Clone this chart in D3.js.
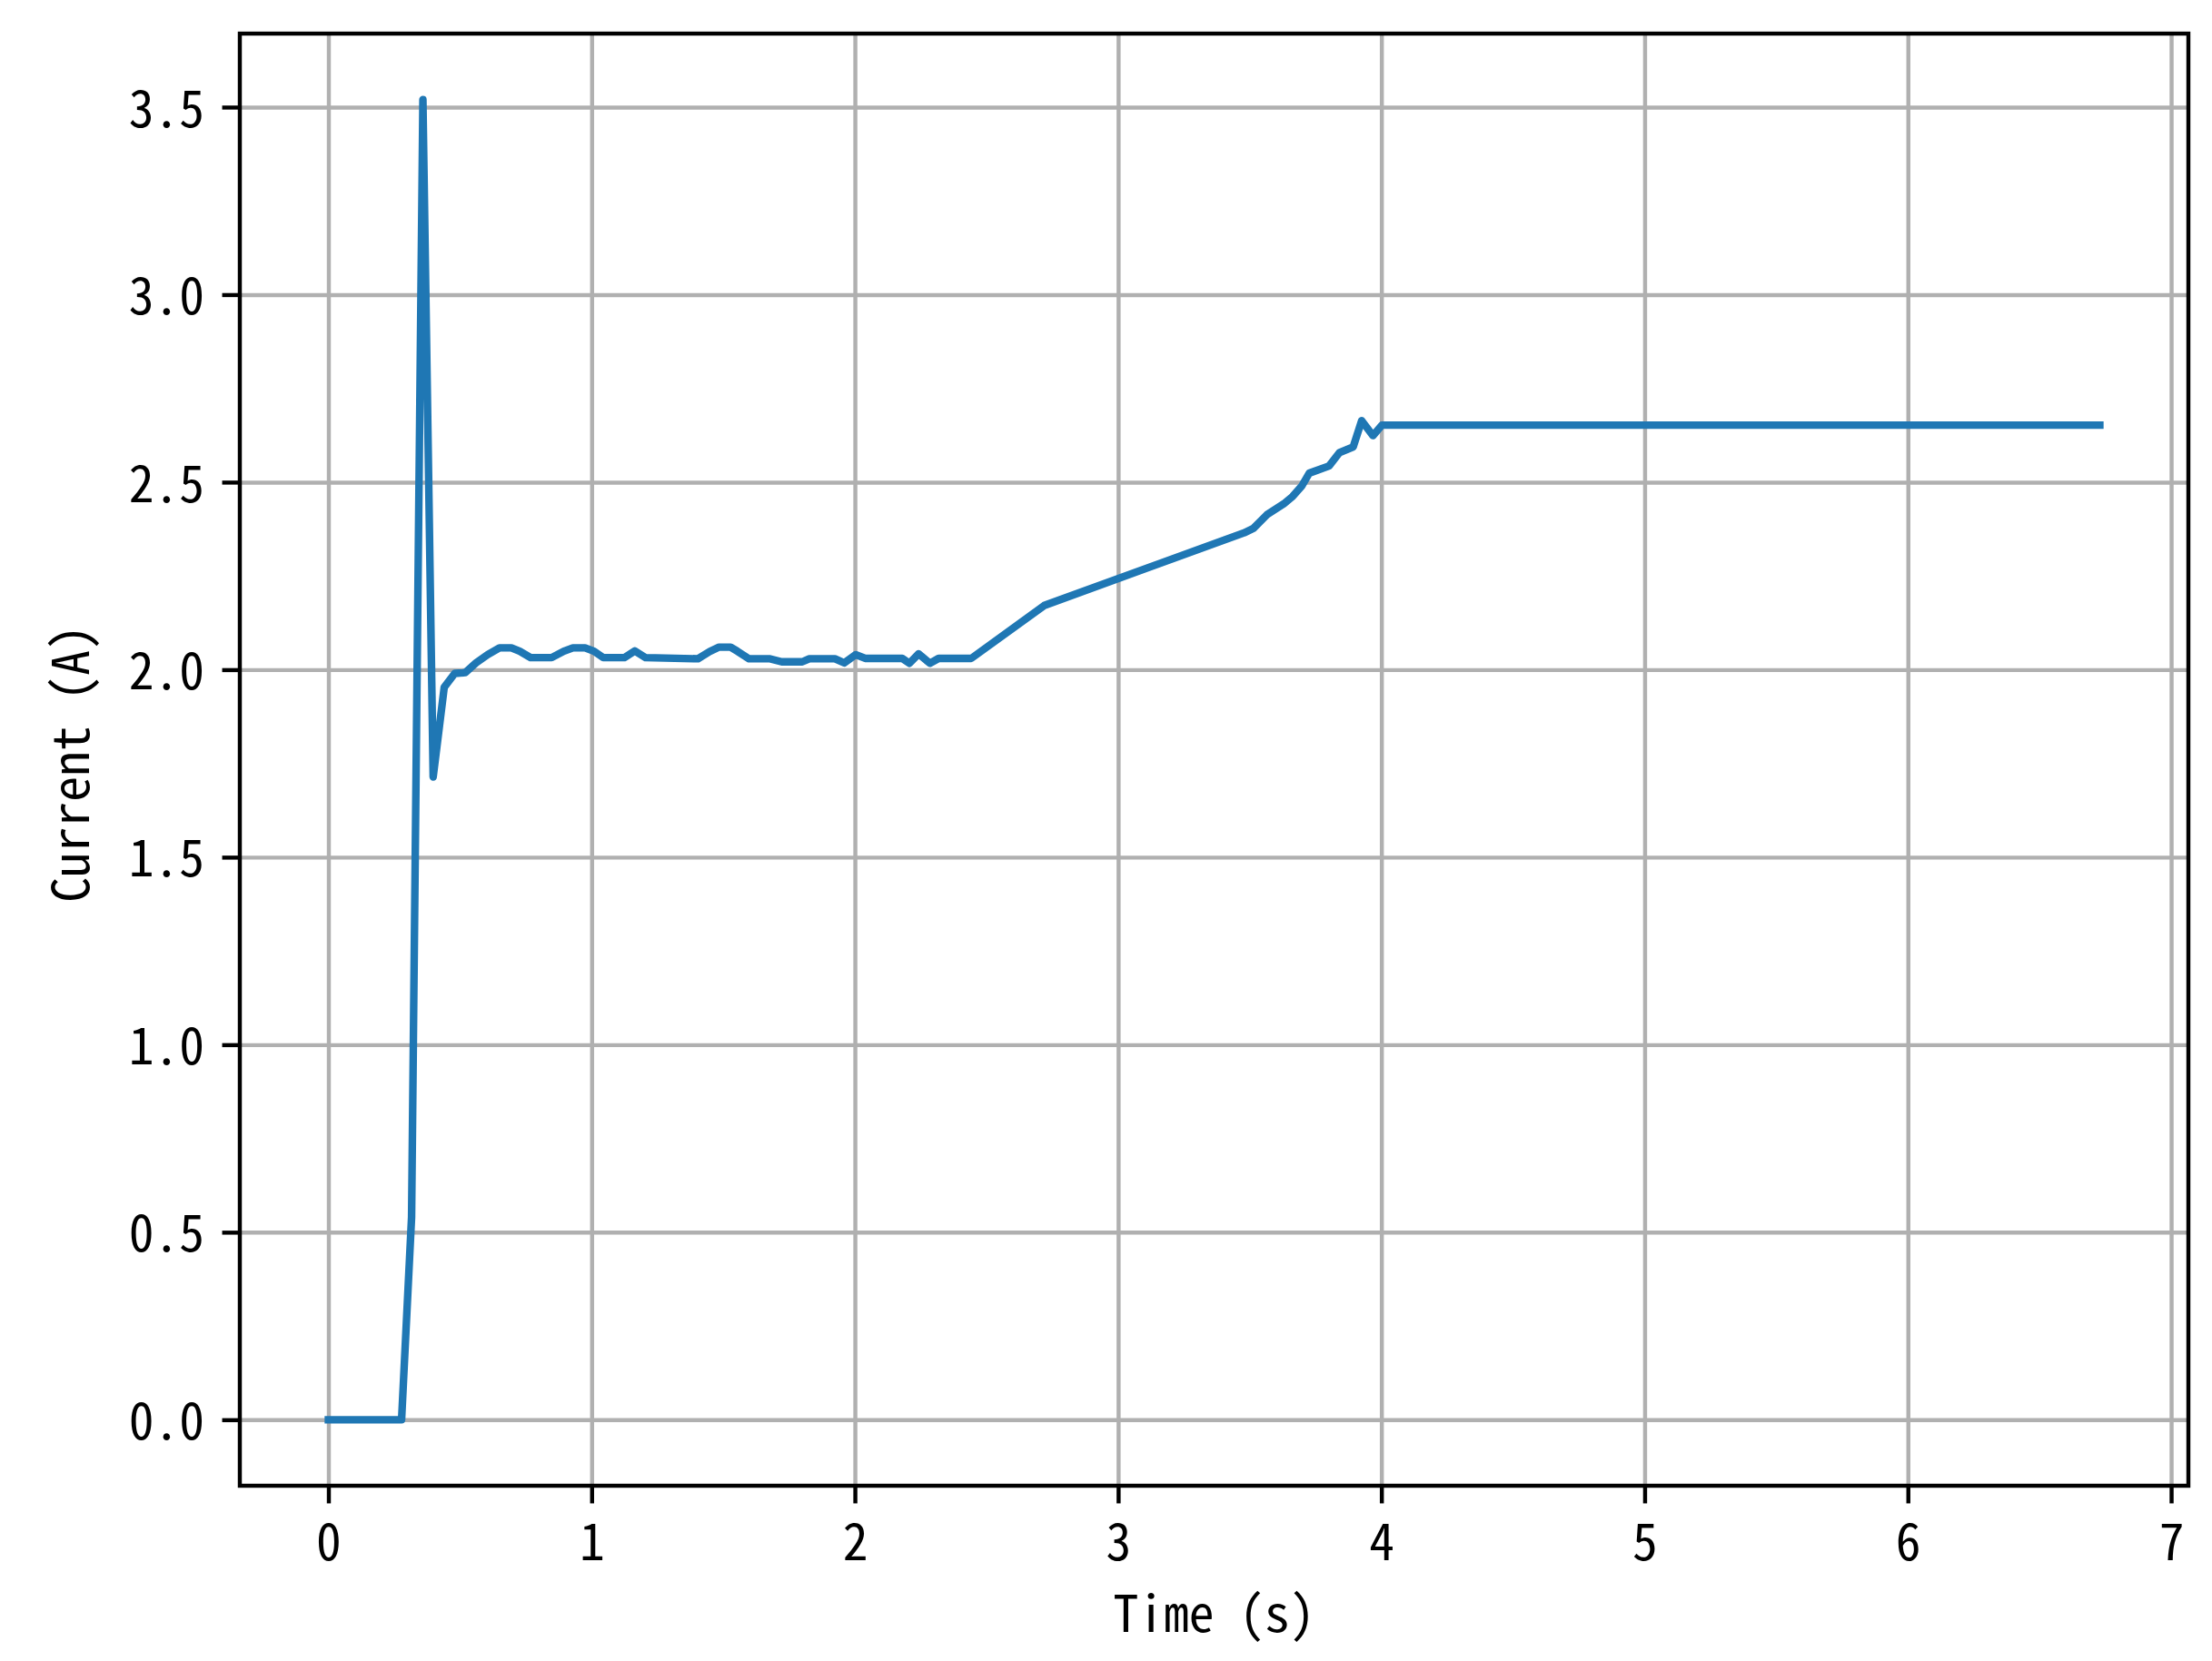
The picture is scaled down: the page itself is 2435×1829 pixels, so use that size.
<!DOCTYPE html>
<html>
<head>
<meta charset="utf-8">
<script src="https://cdn.jsdelivr.net/npm/d3@7"></script>
<style>
    body { margin: 0; background: #fff; }
    text { font-family: "Noto Sans Mono CJK SC", "Noto Sans CJK SC", "DejaVu Sans Mono", monospace; }
</style>
</head>
<body>
<div id="chart"></div>
<script>
// time (s) and current (A)
const times = [0, 0.278, 0.316, 0.359, 0.398, 0.44, 0.48, 0.52, 0.561, 0.605, 0.65, 0.695, 0.727, 0.768, 0.848,
    0.894, 0.929, 0.975, 1.009, 1.044, 1.124, 1.164, 1.205, 1.404, 1.448, 1.484, 1.528, 1.554, 1.598, 1.678,
    1.722, 1.80, 1.827, 1.924, 1.96, 2.003, 2.039, 2.18, 2.207, 2.242, 2.285, 2.318, 2.442, 2.719, 3.479,
    3.514, 3.565, 3.629, 3.663, 3.698, 3.726, 3.801, 3.841, 3.893, 3.925, 3.968, 4.002, 6.729]
const current = [0, 0, 0.54, 3.52, 1.714, 1.953, 1.99, 1.992, 2.018, 2.04, 2.058, 2.058, 2.049, 2.032, 2.032,
    2.049, 2.058, 2.058, 2.049, 2.032, 2.032, 2.05, 2.032, 2.029, 2.048, 2.06, 2.06, 2.049, 2.029, 2.029,
    2.021, 2.021, 2.029, 2.029, 2.018, 2.04, 2.03, 2.03, 2.017, 2.042, 2.017, 2.03, 2.03, 2.171, 2.365,
    2.377, 2.413, 2.442, 2.462, 2.49, 2.524, 2.543, 2.579, 2.594, 2.664, 2.624, 2.652, 2.652]
const xTicks = [0, 1, 2, 3, 4, 5, 6, 7]
const yTicks = [0.0, 0.5, 1.0, 1.5, 2.0, 2.5, 3.0, 3.5]
const xLabel = "Time (s)"
const yLabel = "Current (A)"

const width = 2435
const height = 1829
const margin = {top: 37, right: 26, bottom: 193, left: 264}
const w = width - margin.left - margin.right
const h = height - margin.top - margin.bottom
const pt = 400 / 72   // figure was saved at 400 dpi
const fontSize = 10 * pt

const data = times.map(function(t, i) { return {t: t, v: current[i]} })

// matplotlib style 5% margins
function padded(ext) {
    const m = (ext[1] - ext[0]) * 0.05
    return [ext[0] - m, ext[1] + m]
}

const x = d3.scaleLinear()
    .domain(padded(d3.extent(times)))
    .range([0, w])
const y = d3.scaleLinear()
    .domain(padded(d3.extent(current)))
    .range([h, 0])

const svg = d3.select("#chart")
    .append("svg")
    .attr("width", width)
    .attr("height", height)
    .append("g")
    .attr("transform", "translate(" + margin.left + "," + margin.top + ")")

// grid
svg.append("g")
    .attr("transform", "translate(0," + h + ")")
    .call(d3.axisBottom(x).tickValues(xTicks).tickSize(-h).tickFormat(""))
    .call(g => g.select(".domain").remove())
    .selectAll("line")
    .attr("stroke", "#b0b0b0")
    .attr("stroke-width", 0.8 * pt)
svg.append("g")
    .call(d3.axisLeft(y).tickValues(yTicks).tickSize(-w).tickFormat(""))
    .call(g => g.select(".domain").remove())
    .selectAll("line")
    .attr("stroke", "#b0b0b0")
    .attr("stroke-width", 0.8 * pt)

const line = d3.line()
    .x(function(d) { return x(d.t) })
    .y(function(d) { return y(d.v) })

svg.append("path")
    .datum(data)
    .attr("d", line)
    .attr("fill", "none")
    .attr("stroke", "#1f77b4")
    .attr("stroke-width", 1.5 * pt)
    .attr("stroke-linejoin", "round")
    .attr("stroke-linecap", "square")

// axes with ticks and labels
const xAxis = svg.append("g")
    .attr("transform", "translate(0," + h + ")")
    .call(d3.axisBottom(x).tickValues(xTicks).tickSize(3.5 * pt).tickPadding(3.5 * pt).tickFormat(d3.format("d")))
xAxis.select(".domain").remove()

const yAxis = svg.append("g")
    .call(d3.axisLeft(y).tickValues(yTicks).tickSize(3.5 * pt).tickPadding(3.5 * pt).tickFormat(d3.format(".1f")))
yAxis.select(".domain").remove()

svg.selectAll(".tick line")
    .filter(function() { return this.getAttribute("stroke") === "currentColor" })
    .attr("stroke", "#000")
    .attr("stroke-width", 0.8 * pt)
xAxis.selectAll("text").attr("dy", "0.78em")
yAxis.selectAll("text").attr("dy", "0.38em")
svg.selectAll(".tick text")
    .attr("font-size", fontSize)
    .attr("fill", "#000")
    .attr("font-family", null)

// spines
svg.append("rect")
    .attr("width", w)
    .attr("height", h)
    .attr("fill", "none")
    .attr("stroke", "#000")
    .attr("stroke-width", 0.8 * pt)

svg.append("text")
    .attr("x", w / 2)
    .attr("y", 1797 - margin.top)
    .attr("text-anchor", "middle")
    .attr("font-size", fontSize)
    .text(xLabel)

svg.append("text")
    .attr("transform", "translate(" + (98 - margin.left) + "," + (841 - margin.top) + ") rotate(-90)")
    .attr("text-anchor", "middle")
    .attr("font-size", fontSize)
    .text(yLabel)
</script>
</body>
</html>
